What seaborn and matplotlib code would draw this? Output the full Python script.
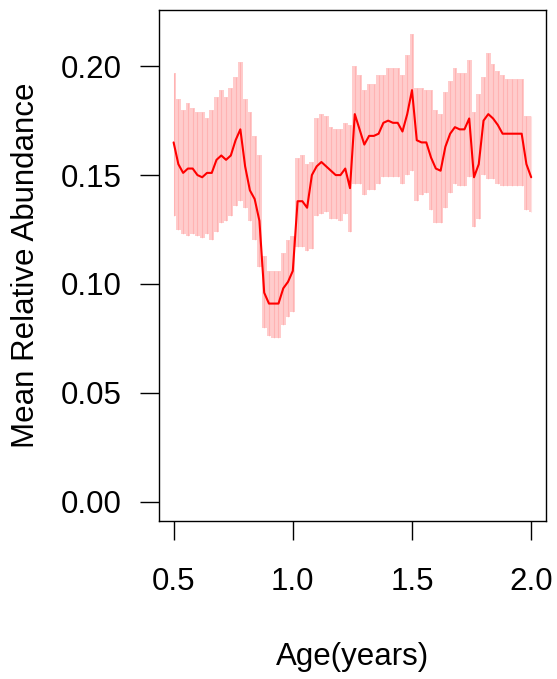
import matplotlib
matplotlib.use("Agg")
import matplotlib.pyplot as plt
import seaborn as sns
import numpy as np
import pandas as pd

# Age grid (years)
ages = [0.50, 0.52, 0.54, 0.56, 0.58, 0.60, 0.62, 0.64, 0.66, 0.68,
        0.70, 0.72, 0.74, 0.76, 0.78, 0.80, 0.82, 0.84, 0.86, 0.88,
        0.90, 0.92, 0.94, 0.96, 0.98, 1.00, 1.02, 1.04, 1.06, 1.08,
        1.10, 1.12, 1.14, 1.16, 1.18, 1.20, 1.22, 1.24, 1.26, 1.28,
        1.30, 1.32, 1.34, 1.36, 1.38, 1.40, 1.42, 1.44, 1.46, 1.48,
        1.50, 1.52, 1.54, 1.56, 1.58, 1.60, 1.62, 1.64, 1.66, 1.68,
        1.70, 1.72, 1.74, 1.76, 1.78, 1.80, 1.82, 1.84, 1.86, 1.88,
        1.90, 1.92, 1.94, 1.96, 1.98, 2.00]

# Mean relative abundance
mean_abund = [0.165, 0.155, 0.151, 0.153, 0.153, 0.150, 0.149, 0.151, 0.151, 0.157,
              0.159, 0.157, 0.159, 0.166, 0.171, 0.154, 0.143, 0.139, 0.129, 0.096,
              0.091, 0.091, 0.091, 0.098, 0.101, 0.106, 0.138, 0.138, 0.135, 0.150,
              0.154, 0.156, 0.154, 0.152, 0.150, 0.150, 0.153, 0.144, 0.178, 0.171,
              0.164, 0.168, 0.168, 0.169, 0.174, 0.175, 0.174, 0.174, 0.170, 0.178,
              0.189, 0.166, 0.165, 0.165, 0.158, 0.153, 0.152, 0.163, 0.169, 0.172,
              0.171, 0.171, 0.176, 0.149, 0.155, 0.175, 0.178, 0.176, 0.173, 0.169,
              0.169, 0.169, 0.169, 0.169, 0.155, 0.149]

# Upper and lower interval bounds
upper = [0.197, 0.185, 0.180, 0.183, 0.181, 0.179, 0.179, 0.176, 0.180, 0.186,
         0.189, 0.186, 0.190, 0.195, 0.202, 0.185, 0.179, 0.168, 0.159, 0.113,
         0.106, 0.106, 0.106, 0.114, 0.120, 0.122, 0.158, 0.159, 0.155, 0.156,
         0.176, 0.178, 0.177, 0.172, 0.171, 0.171, 0.174, 0.173, 0.200, 0.196,
         0.189, 0.192, 0.192, 0.196, 0.196, 0.199, 0.199, 0.199, 0.196, 0.205,
         0.215, 0.190, 0.190, 0.189, 0.189, 0.180, 0.178, 0.188, 0.193, 0.199,
         0.197, 0.197, 0.203, 0.179, 0.187, 0.195, 0.206, 0.201, 0.198, 0.196,
         0.194, 0.194, 0.194, 0.194, 0.177, 0.177]

lower = [0.131, 0.125, 0.123, 0.122, 0.123, 0.122, 0.121, 0.123, 0.120, 0.124,
         0.128, 0.129, 0.131, 0.136, 0.138, 0.135, 0.129, 0.120, 0.108, 0.080,
         0.076, 0.075, 0.075, 0.081, 0.085, 0.087, 0.117, 0.117, 0.115, 0.116,
         0.131, 0.132, 0.133, 0.130, 0.130, 0.129, 0.132, 0.124, 0.146, 0.146,
         0.141, 0.143, 0.143, 0.146, 0.149, 0.149, 0.149, 0.149, 0.146, 0.150,
         0.152, 0.138, 0.141, 0.142, 0.134, 0.128, 0.128, 0.135, 0.142, 0.146,
         0.145, 0.145, 0.149, 0.126, 0.130, 0.150, 0.148, 0.148, 0.146, 0.145,
         0.145, 0.145, 0.145, 0.145, 0.134, 0.133]

x_ticks = [0.5, 1.0, 1.5, 2.0]
y_ticks = [0.00, 0.05, 0.10, 0.15, 0.20]

df = pd.DataFrame({"age": ages, "mean": mean_abund, "upper": upper, "lower": lower})

sns.set_style("white")
plt.rcParams["font.family"] = ["Liberation Sans", "DejaVu Sans"]

fig = plt.figure(figsize=(5.57, 6.79), dpi=100)
ax = fig.add_axes([159.3 / 557, 1 - 520.7 / 679, (545.5 - 159.3) / 557, (520.7 - 10) / 679])

# interval: stepped light-red band with faint vertical strokes at each age
ax.fill_between(df["age"], df["lower"], df["upper"], step="mid",
                color="#ffcccc", linewidth=0)
ax.vlines(df["age"], df["lower"], df["upper"], color=(1, 0, 0, 0.12), linewidth=0.8)
sns.lineplot(data=df, x="age", y="mean", color="red", linewidth=1.5, ax=ax)

ax.set_xlim(0.44, 2.06)
ax.set_ylim(-0.0087, 0.2258)
ax.set_xticks(x_ticks)
ax.set_xticklabels([f"{v:.1f}" for v in x_ticks])
ax.set_yticks(y_ticks)
ax.set_yticklabels([f"{v:.2f}" for v in y_ticks])

for s in ax.spines.values():
    s.set_visible(True)
    s.set_color("black")
    s.set_linewidth(1.0)

ax.tick_params(axis="both", which="major", direction="out", length=14, width=1.0,
               color="black", labelsize=22.5, labelcolor="black", left=True, bottom=True)
ax.tick_params(axis="x", pad=19)
ax.tick_params(axis="y", pad=13)

ax.set_xlabel("Age(years)", fontsize=22.5, color="black")
ax.set_ylabel("Mean Relative Abundance", fontsize=22.5, color="black")
ax.xaxis.set_label_coords(0.5, -0.267)
ax.yaxis.set_label_coords(-0.345, 0.5)
ax.xaxis.label.set_va("center")
ax.yaxis.label.set_va("center")

fig.savefig("out.png", dpi=100, facecolor="white")
